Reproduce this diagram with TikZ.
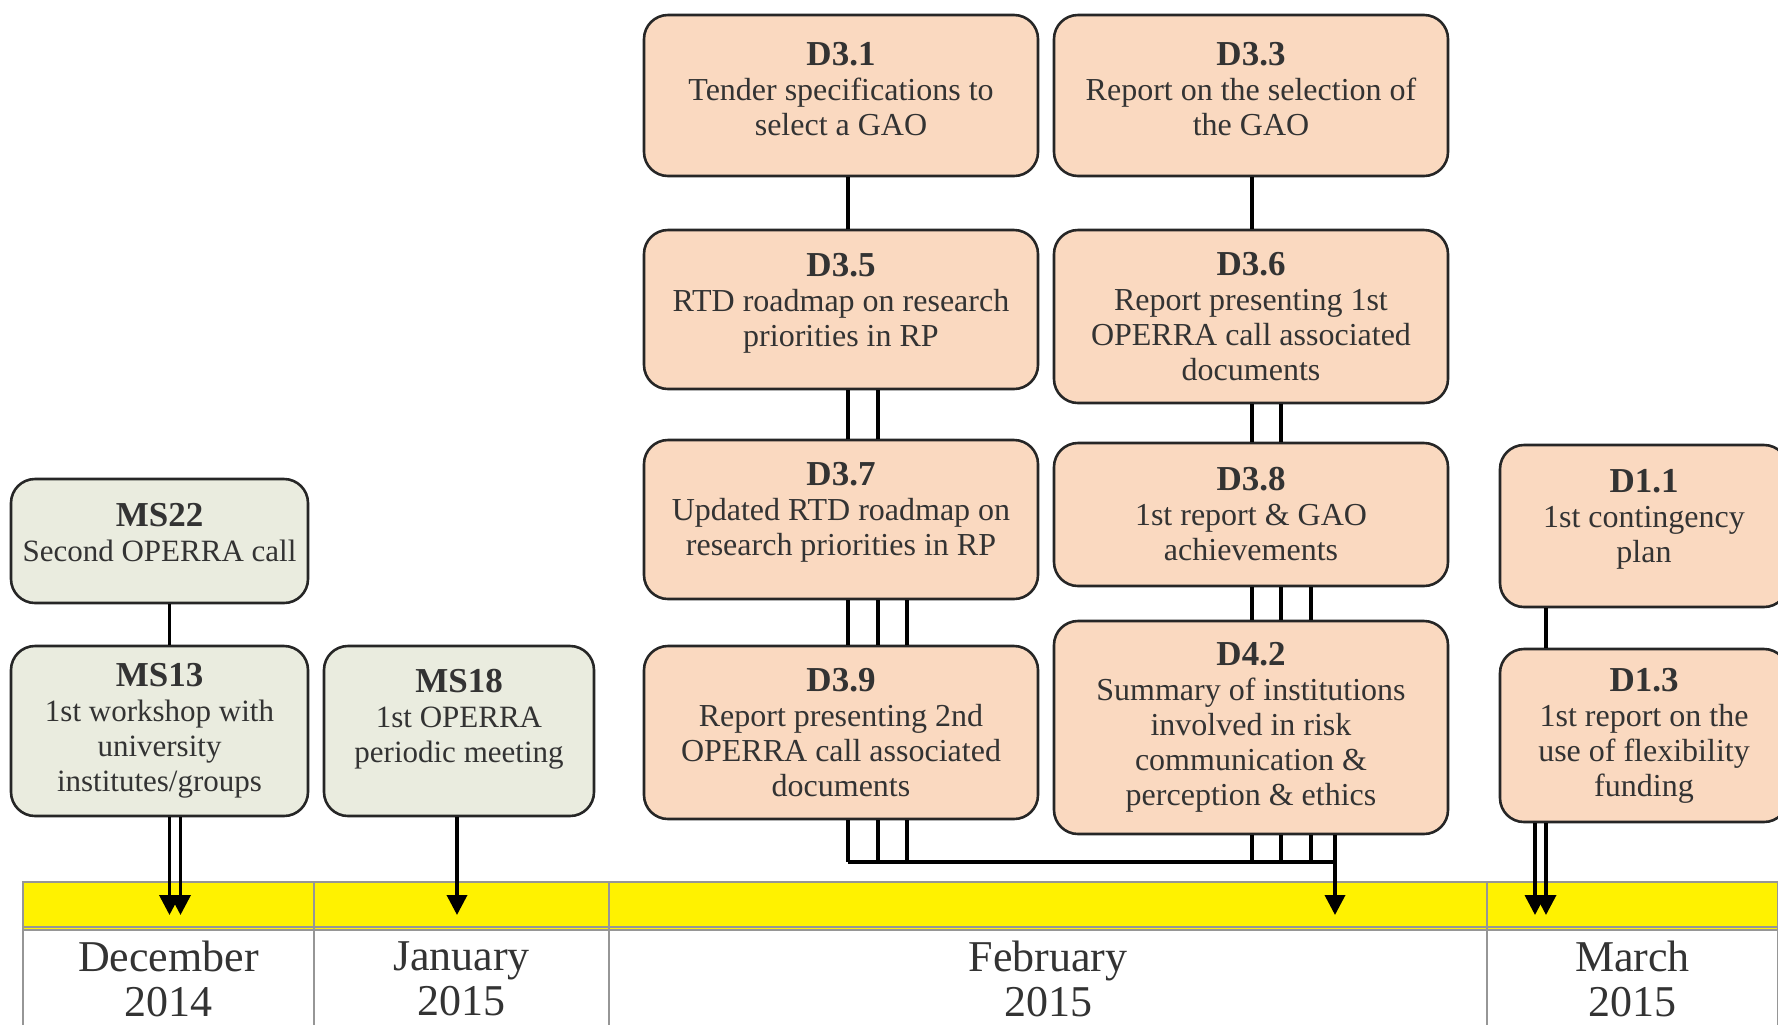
\documentclass[tikz,border=0pt]{standalone}
\usepackage{fontspec}
\setmainfont{Liberation Serif}
\usetikzlibrary{arrows.meta}
\definecolor{deliv}{RGB}{250,217,192}
\definecolor{miles}{RGB}{234,236,223}
\definecolor{cellline}{RGB}{150,150,150}
\newcommand{\boxtitle}[1]{{\fontsize{17.5}{17.5}\selectfont\textbf{#1}}}
\newcommand{\padbelow}[1]{\rule[-#1]{0pt}{#1}}
\tikzstyle{taskbox} = [rectangle, rounded corners=12pt, draw=black!85, line width=1.3pt, align=center, inner sep=0pt, text=black!80, font=\fontsize{16}{17.5}\selectfont]
\tikzstyle{dbox} = [taskbox, fill=deliv, minimum width=197pt]
\tikzstyle{mbox} = [taskbox, fill=miles, font=\fontsize{15.5}{17.5}\selectfont]
\tikzstyle{band} = [rectangle, fill=yellow, draw=cellline, line width=1pt, minimum height=24pt, inner sep=0pt]
\tikzstyle{month} = [rectangle, draw=cellline, line width=1pt, minimum height=52pt, inner sep=0pt, align=center, text=black!80, font=\fontsize{22}{22.5}\selectfont]
\tikzstyle{wire} = [line width=1.8pt]
\tikzstyle{toline} = [line width=1.8pt, -{Triangle[length=10pt,width=10pt]}]

\begin{document}
\begin{tikzpicture}[x=0.5pt,y=-0.5pt]
    \useasboundingbox (0,0) rectangle (1778,1024);
    % timeline
    \node (ydec) [band, minimum width=145.5pt] at (168.5,906) {};
    \node (yjan) [band, minimum width=147.5pt] at (461.5,906) {};
    \node (yfeb) [band, minimum width=439pt] at (1048,906) {};
    \node (ymar) [band, minimum width=145.5pt] at (1632.5,906) {};
    \node (dec) [month, minimum width=145.5pt] at (168.5,979) {December\\2014};
    \node (jan) [month, minimum width=147.5pt] at (461.5,979) {January\\2015};
    \node (feb) [month, minimum width=439pt] at (1048,979) {February\\2015};
    \node (mar) [month, minimum width=145.5pt] at (1632.5,979) {March\\2015};
    \coordinate (bandmark) at (0,915);
    \coordinate (busline) at (0,862);
    % milestones
    \node (ms22) [mbox, minimum width=148.5pt, minimum height=62pt] at (159.5,541) {\boxtitle{MS22}\\Second OPERRA call\padbelow{9pt}};
    \node (ms13) [mbox, minimum width=148.5pt, minimum height=85pt] at (159.5,731) {\boxtitle{MS13}\\1st workshop with\\university\\institutes/groups};
    \node (ms18) [mbox, minimum width=135pt, minimum height=85pt] at (459,731) {\boxtitle{MS18}\\1st OPERRA\\periodic meeting\padbelow{15pt}};
    % deliverables
    \node (d31) [dbox, minimum height=80.5pt] at (841,95.5) {\boxtitle{D3.1}\\Tender specifications to\\select a GAO\padbelow{7pt}};
    \node (d33) [dbox, minimum height=80.5pt] at (1251,95.5) {\boxtitle{D3.3}\\Report on the selection of\\the GAO\padbelow{7pt}};
    \node (d35) [dbox, minimum height=79.5pt] at (841,309.5) {\boxtitle{D3.5}\\RTD roadmap on research\\priorities in RP\padbelow{10pt}};
    \node (d36) [dbox, minimum height=86.5pt] at (1251,316.5) {\boxtitle{D3.6}\\Report presenting 1st\\OPERRA call associated\\documents};
    \node (d37) [dbox, minimum height=79.5pt] at (841,519.5) {\boxtitle{D3.7}\\Updated RTD roadmap on\\research priorities in RP\padbelow{11pt}};
    \node (d38) [dbox, minimum height=71.5pt] at (1251,514.5) {\boxtitle{D3.8}\\1st report \& GAO\\achievements};
    \node (d39) [dbox, minimum height=86.5pt] at (841,732.5) {\boxtitle{D3.9}\\Report presenting 2nd\\OPERRA call associated\\documents};
    \node (d42) [dbox, minimum height=106.5pt] at (1251,727.5) {\boxtitle{D4.2}\\Summary of institutions\\involved in risk\\communication \&\\perception \& ethics};
    \node (d11) [dbox, minimum width=144pt, minimum height=81pt] at (1644,526) {\boxtitle{D1.1}\\1st contingency\\plan\padbelow{10pt}};
    \node (d13) [dbox, minimum width=144pt, minimum height=86.5pt] at (1644,735.5) {\boxtitle{D1.3}\\1st report on the\\use of flexibility\\funding};
    % links
    \draw [wire] ([shift={(10,0)}]ms22.south) -- ([shift={(10,0)}]ms13.north);
    \foreach \dx in {10,21}
        \draw [toline] ([shift={(\dx,0)}]ms13.south) -- ([shift={(\dx,0)}]ms13.south |- bandmark);
    \draw [toline] ([shift={(-2,0)}]ms18.south) -- ([shift={(-2,0)}]ms18.south |- bandmark);
    \draw [wire] ([shift={(7,0)}]d31.south) -- ([shift={(7,0)}]d35.north);
    \foreach \dx in {7,37}
        \draw [wire] ([shift={(\dx,0)}]d35.south) -- ([shift={(\dx,0)}]d37.north);
    \foreach \dx in {7,37,66}
        \draw [wire] ([shift={(\dx,0)}]d37.south) -- ([shift={(\dx,0)}]d39.north);
    \foreach \dx in {7,37,66}
        \draw [wire] ([shift={(\dx,0)}]d39.south) -- ([shift={(\dx,0)}]d39.south |- busline);
    \draw [wire] ([shift={(1,0)}]d33.south) -- ([shift={(1,0)}]d36.north);
    \foreach \dx in {1,30}
        \draw [wire] ([shift={(\dx,0)}]d36.south) -- ([shift={(\dx,0)}]d38.north);
    \foreach \dx in {1,30,60}
        \draw [wire] ([shift={(\dx,0)}]d38.south) -- ([shift={(\dx,0)}]d42.north);
    \foreach \dx in {1,30,60}
        \draw [wire] ([shift={(\dx,0)}]d42.south) -- ([shift={(\dx,0)}]d42.south |- busline);
    \draw [wire] ([shift={(7,0)}]d39.south |- busline) -- ([shift={(84,0)}]d42.south |- busline);
    \draw [toline] ([shift={(84,0)}]d42.south) -- ([shift={(84,0)}]d42.south |- bandmark);
    \draw [wire] ([shift={(-98,0)}]d11.south) -- ([shift={(-98,0)}]d13.north);
    \foreach \dx in {-109,-98}
        \draw [toline] ([shift={(\dx,0)}]d13.south) -- ([shift={(\dx,0)}]d13.south |- bandmark);
\end{tikzpicture}
\end{document}
